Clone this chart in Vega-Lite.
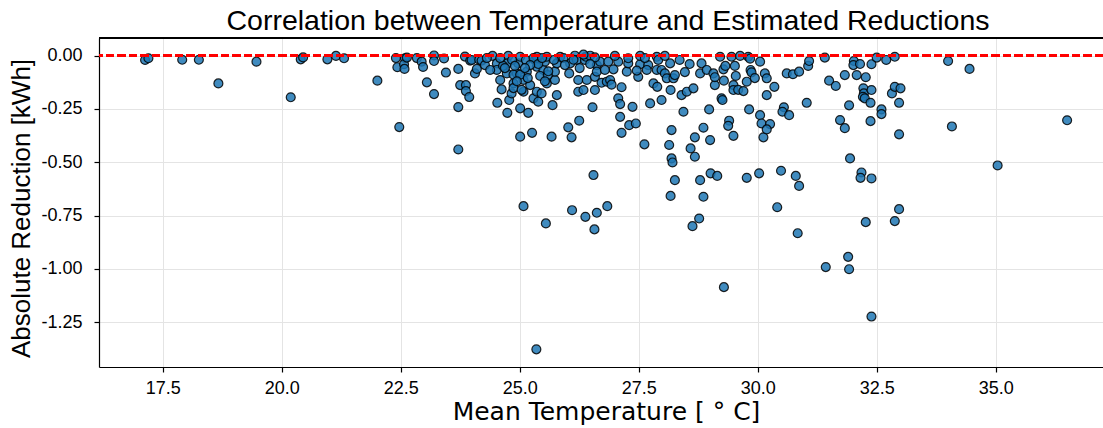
{
  "$schema": "https://vega.github.io/schema/vega-lite/v6.json",
  "width": 1004,
  "height": 329,
  "autosize": {"type": "none"},
  "padding": {"left": 99, "top": 38, "right": 0, "bottom": 61},
  "title": {"text": "Correlation between Temperature and Estimated Reductions", "font": "Liberation Sans", "fontSize": 28.5, "fontWeight": "normal", "color": "#000", "anchor": "middle", "frame": "group", "dx": 7, "offset": 2},
  "config": {
    "view": {"stroke": null},
    "axis": {"domainColor": "#000", "domainWidth": 1.2, "tickColor": "#000", "tickWidth": 1.2, "labelColor": "#000", "titleColor": "#000", "gridColor": "#e4e4e4", "gridWidth": 1, "labelFont": "Liberation Sans", "labelFontSize": 18, "tickSize": 5, "titleFontWeight": "normal"}
  },
  "data": {"values": [
    {"t":17.13,"r":-0.020},{"t":17.20,"r":-0.012},{"t":17.91,"r":-0.019},{"t":18.26,"r":-0.019},{"t":18.67,"r":-0.130},{"t":19.47,"r":-0.028},{"t":20.19,"r":-0.195},{"t":20.40,"r":-0.017},{"t":20.45,"r":-0.008},{"t":20.96,"r":-0.017},{"t":21.14,"r":-0.001},{"t":21.31,"r":-0.012},
    {"t":22.01,"r":-0.117},{"t":22.40,"r":-0.011},{"t":22.43,"r":-0.054},{"t":22.47,"r":-0.335},{"t":22.59,"r":-0.012},{"t":22.57,"r":-0.040},{"t":22.58,"r":-0.062},{"t":22.63,"r":-0.009},{"t":22.84,"r":-0.011},
    {"t":22.94,"r":-0.028},{"t":22.97,"r":-0.053},{"t":23.05,"r":-0.125},{"t":23.20,"r":-0.180},{"t":23.20,"r":0.001},{"t":23.20,"r":-0.025},{"t":23.41,"r":-0.013},{"t":23.45,"r":-0.079},{"t":23.71,"r":-0.062},{"t":23.75,"r":-0.138},{"t":23.87,"r":-0.138},{"t":23.87,"r":-0.166},{"t":23.94,"r":-0.194},{"t":23.71,"r":-0.241},{"t":23.71,"r":-0.440},{"t":23.85,"r":-0.004},{"t":23.96,"r":-0.023},
    {"t":23.99,"r":-0.020},{"t":24.06,"r":-0.083},{"t":24.10,"r":-0.062},{"t":24.15,"r":-0.019},{"t":24.20,"r":-0.023},{"t":24.27,"r":-0.044},{"t":24.43,"r":-0.001},{"t":24.52,"r":-0.036},{"t":24.52,"r":-0.067},{"t":24.62,"r":-0.158},{"t":24.53,"r":-0.221},{"t":24.74,"r":-0.268},{"t":24.76,"r":-0.001},{"t":24.74,"r":-0.036},{"t":24.73,"r":-0.083},{"t":24.78,"r":-0.208},{"t":24.83,"r":-0.177},{"t":24.87,"r":-0.130},{"t":24.94,"r":-0.083},{"t":24.97,"r":-0.036},{"t":25.01,"r":-0.005},{"t":25.01,"r":-0.247},{"t":25.08,"r":-0.114},{"t":25.08,"r":-0.169},{"t":25.13,"r":-0.020},{"t":25.15,"r":-0.075},{"t":25.18,"r":-0.268},{"t":25.01,"r":-0.380},{"t":25.26,"r":-0.362},{"t":25.29,"r":-0.200},{"t":25.32,"r":-0.020},{"t":25.36,"r":-0.005},{"t":25.36,"r":-0.052},{"t":25.36,"r":-0.169},{"t":25.39,"r":-0.216},{"t":25.46,"r":-0.177},{"t":25.50,"r":-0.067},{"t":25.53,"r":-0.028},{"t":25.57,"r":-0.005},{"t":25.57,"r":-0.130},{"t":25.67,"r":-0.380},{"t":25.69,"r":-0.232},{"t":25.74,"r":-0.114},{"t":25.74,"r":-0.075},{"t":25.78,"r":-0.185},{"t":25.78,"r":-0.036},{"t":25.85,"r":-0.005},
    {"t":24.87,"r":-0.089},{"t":25.01,"r":-0.089},{"t":24.87,"r":-0.152},{"t":25.04,"r":-0.160},{"t":24.94,"r":-0.120},{"t":25.22,"r":-0.138},{"t":24.59,"r":-0.114},{"t":24.38,"r":-0.067},{"t":24.65,"r":-0.048},{"t":25.17,"r":-0.105},{"t":25.43,"r":-0.095},{"t":25.59,"r":-0.091},{"t":25.29,"r":-0.011},{"t":25.39,"r":-0.039},{"t":25.60,"r":-0.073},{"t":25.53,"r":-0.120},{"t":24.59,"r":-0.011},{"t":24.84,"r":-0.020},{"t":24.31,"r":-0.011},{"t":25.22,"r":-0.044},{"t":25.47,"r":-0.011},{"t":25.72,"r":-0.020},{"t":24.69,"r":-0.058},{"t":24.90,"r":-0.048},{"t":25.11,"r":-0.058},
    {"t":25.08,"r":-0.706},{"t":25.55,"r":-0.787},{"t":26.10,"r":-0.725},{"t":26.38,"r":-0.756},{"t":26.62,"r":-0.737},{"t":26.84,"r":-0.706},{"t":26.57,"r":-0.815},{"t":25.35,"r":-1.378},
    {"t":26.02,"r":-0.336},{"t":26.04,"r":-0.083},{"t":26.09,"r":-0.383},{"t":26.06,"r":-0.036},{"t":26.16,"r":0.000},{"t":26.20,"r":-0.020},{"t":26.25,"r":-0.305},{"t":26.23,"r":-0.114},{"t":26.23,"r":-0.169},{"t":26.34,"r":-0.161},{"t":26.37,"r":-0.020},{"t":26.39,"r":-0.005},{"t":26.41,"r":-0.114},{"t":26.48,"r":0.000},{"t":26.53,"r":-0.242},{"t":26.58,"r":-0.161},{"t":26.58,"r":-0.099},{"t":26.62,"r":-0.044},{"t":26.62,"r":-0.075},{"t":26.69,"r":-0.028},{"t":26.72,"r":-0.127},{"t":26.55,"r":-0.560},{"t":26.83,"r":-0.122},{"t":26.90,"r":-0.114},{"t":26.86,"r":-0.028},{"t":26.97,"r":-0.064},{"t":27.07,"r":-0.028},{"t":27.14,"r":-0.148},{"t":27.07,"r":-0.200},{"t":27.11,"r":-0.227},{"t":27.11,"r":-0.287},{"t":27.14,"r":-0.362},{"t":27.25,"r":-0.075},{"t":27.28,"r":-0.036},{"t":27.28,"r":-0.012},{"t":27.30,"r":-0.326},{"t":27.37,"r":-0.240},{"t":27.44,"r":-0.318},{"t":27.49,"r":-0.099},{"t":27.53,"r":-0.040},{"t":27.46,"r":-0.070},{"t":27.70,"r":-0.044},{"t":27.67,"r":-0.067},{"t":27.74,"r":-0.224},{"t":27.62,"r":-0.416},{"t":27.81,"r":-0.130},{"t":27.88,"r":-0.005},{"t":27.91,"r":-0.020},{"t":27.89,"r":-0.146},{"t":27.88,"r":-0.067},{"t":27.98,"r":-0.208},{"t":27.98,"r":-0.067},{"t":28.05,"r":-0.083},{"t":28.09,"r":-0.106},{"t":28.16,"r":-0.036},{"t":28.17,"r":-0.161},{"t":28.19,"r":-0.349},{"t":28.14,"r":-0.419},{"t":28.23,"r":-0.106},{"t":28.26,"r":-0.091},{"t":28.19,"r":-0.482},{"t":28.21,"r":-0.501},{"t":28.26,"r":-0.584},{"t":28.17,"r":-0.658},{"t":28.40,"r":-0.185},{"t":28.44,"r":-0.263},{"t":28.51,"r":-0.169},{"t":28.65,"r":-0.153},{"t":28.68,"r":-0.383},{"t":28.59,"r":-0.435},{"t":28.68,"r":-0.474},{"t":28.79,"r":-0.083},{"t":28.82,"r":-0.036},
    {"t":25.92,"r":-0.011},{"t":26.13,"r":-0.019},{"t":26.34,"r":0.005},{"t":26.58,"r":-0.008},{"t":26.93,"r":-0.136},{"t":25.95,"r":-0.044},{"t":26.26,"r":-0.058},{"t":26.48,"r":-0.039},{"t":26.79,"r":-0.067},{"t":27.00,"r":-0.001},{"t":27.53,"r":-0.001},{"t":27.63,"r":-0.011},{"t":28.05,"r":-0.001},{"t":28.36,"r":-0.020},{"t":28.57,"r":-0.039},{"t":28.47,"r":-0.077},
    {"t":28.93,"r":-0.067},{"t":28.98,"r":-0.252},{"t":29.00,"r":-0.396},{"t":29.07,"r":-0.083},{"t":29.10,"r":-0.138},{"t":29.10,"r":-0.101},{"t":29.01,"r":-0.552},{"t":29.15,"r":-0.564},{"t":28.79,"r":-0.584},{"t":28.86,"r":-0.662},{"t":28.77,"r":-0.764},{"t":28.63,"r":-0.800},{"t":28.86,"r":-0.338},{"t":29.21,"r":-0.005},{"t":29.28,"r":-0.064},{"t":29.32,"r":-0.048},{"t":29.24,"r":-0.200},{"t":29.26,"r":-0.208},{"t":29.29,"r":-0.117},{"t":29.40,"r":-0.305},{"t":29.38,"r":-0.329},{"t":29.49,"r":-0.376},{"t":29.49,"r":-0.138},{"t":29.49,"r":-0.161},{"t":29.45,"r":-0.005},{"t":29.52,"r":-0.048},{"t":29.54,"r":-0.095},{"t":29.59,"r":-0.160},{"t":29.63,"r":-0.001},{"t":29.70,"r":-0.166},{"t":29.77,"r":-0.122},{"t":29.80,"r":-0.005},{"t":29.84,"r":-0.014},{"t":29.82,"r":-0.252},{"t":29.85,"r":-0.067},{"t":29.87,"r":-0.078},{"t":29.94,"r":-0.105},{"t":29.77,"r":-0.573},{"t":30.03,"r":-0.552},{"t":30.05,"r":-0.028},{"t":30.05,"r":-0.279},{"t":30.08,"r":-0.318},{"t":30.12,"r":-0.383},{"t":30.15,"r":-0.083},{"t":30.19,"r":-0.185},{"t":30.19,"r":-0.106},{"t":30.26,"r":-0.321},{"t":30.19,"r":-0.346},{"t":30.35,"r":-0.146},
    {"t":30.61,"r":-0.083},{"t":30.74,"r":-0.087},{"t":30.87,"r":-0.075},{"t":31.06,"r":-0.048},{"t":31.08,"r":-0.025},{"t":31.41,"r":-0.009},{"t":31.50,"r":-0.117},{"t":31.64,"r":-0.142},{"t":31.03,"r":-0.221},{"t":30.55,"r":-0.242},{"t":30.52,"r":-0.263},{"t":30.66,"r":-0.279},{"t":30.49,"r":-0.540},{"t":30.80,"r":-0.564},{"t":30.87,"r":-0.611},{"t":30.41,"r":-0.711},{"t":30.84,"r":-0.833},{"t":29.29,"r":-1.086},{"t":31.43,"r":-0.992},{"t":31.90,"r":-0.944},{"t":31.92,"r":-1.002},{"t":31.94,"r":-0.482},{"t":31.73,"r":-0.302},{"t":31.83,"r":-0.340},{"t":31.92,"r":-0.233},{"t":31.83,"r":-0.091},{"t":32.08,"r":-0.091},{"t":32.27,"r":-0.101},{"t":32.02,"r":-0.025},{"t":32.01,"r":-0.044},{"t":32.15,"r":-0.039},{"t":32.39,"r":-0.040},{"t":32.50,"r":-0.009},{"t":32.70,"r":-0.020},{"t":32.88,"r":-0.005},{"t":32.22,"r":-0.153},{"t":32.23,"r":-0.177},{"t":32.21,"r":-0.193},{"t":32.25,"r":-0.200},{"t":32.39,"r":-0.161},{"t":32.37,"r":-0.221},{"t":32.60,"r":-0.252},{"t":32.60,"r":-0.274},{"t":32.37,"r":-0.307},{"t":32.82,"r":-0.177},{"t":32.88,"r":-0.146},{"t":33.00,"r":-0.153},{"t":32.97,"r":-0.221},{"t":32.97,"r":-0.369},{"t":32.18,"r":-0.548},{"t":32.16,"r":-0.573},{"t":32.39,"r":-0.576},{"t":32.27,"r":-0.781},{"t":32.88,"r":-0.776},{"t":32.97,"r":-0.720},{"t":32.39,"r":-1.224},
    {"t":34.00,"r":-0.025},{"t":34.45,"r":-0.062},{"t":34.08,"r":-0.332},{"t":36.50,"r":-0.303},{"t":35.04,"r":-0.515}
  ]},
  "layer": [
    {
      "mark": {"type": "point", "shape": "circle", "filled": true, "size": 80, "color": "#1f77b4", "fillOpacity": 0.85, "stroke": "#000", "strokeOpacity": 0.85, "strokeWidth": 1.2},
      "encoding": {
        "x": {"field": "t", "type": "quantitative", "scale": {"domain": [16.162, 37.254], "nice": false, "zero": false},
          "axis": {"title": "Mean Temperature [ ° C]", "titleFont": "DejaVu Sans", "titleFontSize": 25, "titlePadding": 2, "titleX": 507, "labelPadding": 7, "values": [17.5, 20, 22.5, 25, 27.5, 30, 32.5, 35], "format": ".1f", "grid": true}},
        "y": {"field": "r", "type": "quantitative", "scale": {"domain": [-1.4608, 0.0831], "nice": false, "zero": false},
          "axis": {"title": "Absolute Reduction [kWh]", "titleFont": "Liberation Sans", "titleFontSize": 26, "titlePadding": 6, "titleY": 170, "labelPadding": 12, "values": [0, -0.25, -0.5, -0.75, -1, -1.25], "labelExpr": "replace(format(datum.value, '.2f'), '−', '-')", "grid": true}}
      }
    },
    {
      "mark": {"type": "rule", "color": "#ff0000", "strokeWidth": 2, "strokeDash": [8, 3.5], "opacity": 0.9},
      "encoding": {"y": {"datum": 0}}
    },
    {
      "mark": {"type": "rule", "color": "#000", "strokeWidth": 1.2},
      "encoding": {"y": {"datum": 0.0831}}
    }
  ]
}
